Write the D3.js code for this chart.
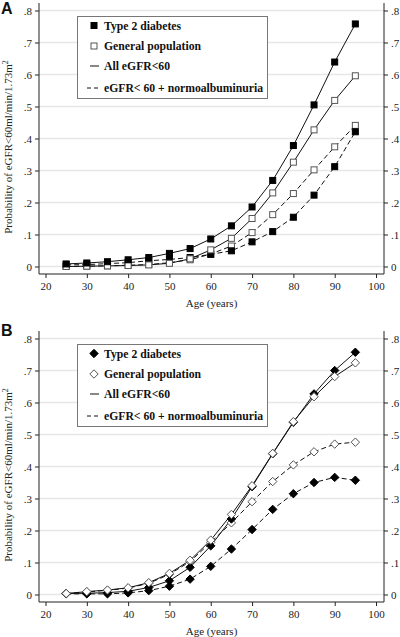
<!DOCTYPE html>
<html>
<head>
<meta charset="utf-8">
<script src="https://cdn.jsdelivr.net/npm/d3@7"></script>
<style>
  html, body { margin: 0; padding: 0; background: #fff; }
  svg { display: block; }
</style>
</head>
<body>
<svg id="chart" width="400" height="637"></svg>
<script>
// ---------- DATA ----------
const ages = [25, 30, 35, 40, 45, 50, 55, 60, 65, 70, 75, 80, 85, 90, 95];
const xTicks = [20, 30, 40, 50, 60, 70, 80, 90, 100];
const yTicks = [0, 0.1, 0.2, 0.3, 0.4, 0.5, 0.6, 0.7, 0.8];
const yTickLabels = ["0", ".1", ".2", ".3", ".4", ".5", ".6", ".7", ".8"];
const legendLabels = ["Type 2 diabetes", "General population", "All eGFR<60", "eGFR< 60 + normoalbuminuria"];
const panelLetters = ["A", "B"];

// Panel A
const aT2dAll   = [0.008, 0.011, 0.015, 0.021, 0.028, 0.041, 0.056, 0.086, 0.127, 0.186, 0.269, 0.378, 0.505, 0.639, 0.758];
const aGenAll   = [0.000, 0.001, 0.002, 0.003, 0.005, 0.010, 0.024, 0.052, 0.088, 0.150, 0.230, 0.326, 0.427, 0.519, 0.596];
const aT2dNormo = [0.005, 0.006, 0.009, 0.012, 0.018, 0.022, 0.028, 0.038, 0.049, 0.077, 0.109, 0.154, 0.223, 0.312, 0.421];
const aGenNormo = [0.000, 0.001, 0.002, 0.004, 0.006, 0.012, 0.021, 0.039, 0.064, 0.106, 0.162, 0.228, 0.302, 0.374, 0.441];

// Panel B
const bT2dAll   = [0.003, 0.004, 0.006, 0.010, 0.022, 0.043, 0.085, 0.152, 0.236, 0.337, 0.440, 0.538, 0.627, 0.700, 0.757];
const bGenAll   = [0.003, 0.009, 0.014, 0.021, 0.037, 0.066, 0.107, 0.170, 0.250, 0.340, 0.441, 0.540, 0.618, 0.681, 0.724];
const bT2dNormo = [0.002, 0.002, 0.002, 0.005, 0.012, 0.026, 0.048, 0.088, 0.142, 0.203, 0.266, 0.315, 0.350, 0.366, 0.357];
const bGenNormo = [0.003, 0.008, 0.013, 0.020, 0.035, 0.063, 0.103, 0.163, 0.224, 0.290, 0.353, 0.405, 0.446, 0.470, 0.476];

// ---------- DRAW ----------
const svg = d3.select("#chart");
const serif = "'Liberation Serif', 'Times New Roman', serif";
const sans = "'Liberation Sans', Arial, sans-serif";

function drawPanel(off, letter, series, shape) {
  const g = svg.append("g").attr("transform", `translate(0,${off})`);
  const x = d3.scaleLinear().domain([20, 100]).range([45.5, 376]);
  const y = d3.scaleLinear().domain([0, 0.8]).range([266.5, 10.5]);
  const left = 39, right = 384, top = 3, bottom = 274;

  // gridlines
  g.append("g").selectAll("line").data(yTicks).join("line")
    .attr("x1", left).attr("x2", right)
    .attr("y1", d => y(d)).attr("y2", d => y(d))
    .attr("stroke", "#e7e7e7").attr("stroke-width", 1.5);

  // axes
  const fmt = (d) => yTickLabels[yTicks.findIndex(t => Math.abs(t - d) < 1e-9)];
  const yl = g.append("g").attr("transform", `translate(${left},0)`)
    .call(d3.axisLeft(y).tickValues(yTicks).tickFormat(fmt).tickSize(4).tickPadding(3));
  const yr = g.append("g").attr("transform", `translate(${right},0)`)
    .call(d3.axisRight(y).tickValues(yTicks).tickFormat(fmt).tickSize(4).tickPadding(3));
  const xa = g.append("g").attr("transform", `translate(0,${bottom})`)
    .call(d3.axisBottom(x).tickValues(xTicks).tickFormat(d3.format("d")).tickSize(4).tickPadding(4));
  [yl, yr, xa].forEach(a => {
    a.select(".domain").remove();
    a.selectAll("text").attr("font-family", serif).attr("font-size", 11).attr("fill", "#222");
    a.selectAll("line").attr("stroke", "#222");
  });
  g.append("line").attr("x1", left).attr("x2", left).attr("y1", top).attr("y2", bottom).attr("stroke", "#222");
  g.append("line").attr("x1", right).attr("x2", right).attr("y1", top).attr("y2", bottom).attr("stroke", "#222");
  g.append("line").attr("x1", left).attr("x2", right).attr("y1", bottom).attr("y2", bottom).attr("stroke", "#222");

  // titles
  const yt = g.append("text")
    .attr("transform", `translate(12,${147}) rotate(-90)`)
    .attr("text-anchor", "middle").attr("font-family", serif).attr("font-size", 11).attr("fill", "#222");
  yt.append("tspan").text("Probability of eGFR<60ml/min/1.73m");
  yt.append("tspan").attr("dy", -4).attr("font-size", 8).text("2");
  g.append("text").attr("x", (left + right) / 2).attr("y", 307)
    .attr("text-anchor", "middle").attr("font-family", serif).attr("font-size", 11).attr("fill", "#222")
    .text("Age (years)");
  g.append("text").attr("x", 1).attr("y", letter === "A" ? 14 : 8)
    .attr("font-family", sans).attr("font-weight", "bold").attr("font-size", 16).attr("fill", "#111")
    .text(letter);

  // lines
  const line = d3.line().x((d, i) => x(ages[i])).y(d => y(d));
  series.forEach(s => {
    g.append("path").attr("d", line(s.values)).attr("fill", "none")
      .attr("stroke", "#111").attr("stroke-width", 1)
      .attr("stroke-dasharray", s.dashed ? "5,3" : null);
  });

  function marker(sel, filled) {
    if (shape === "square") {
      sel.append("rect").attr("x", -3).attr("y", -3).attr("width", 6).attr("height", 6)
        .attr("fill", filled ? "#000" : "#fff").attr("stroke", filled ? "#000" : "#555").attr("stroke-width", 1);
    } else {
      sel.append("path").attr("d", "M0,-4.2L4.2,0L0,4.2L-4.2,0Z")
        .attr("fill", filled ? "#000" : "#fff").attr("stroke", filled ? "#000" : "#555").attr("stroke-width", 1);
    }
  }
  series.forEach(s => {
    s.values.forEach((v, i) => {
      const m = g.append("g").attr("transform", `translate(${x(ages[i])},${y(v)})`);
      marker(m, s.filled);
    });
  });

  // legend
  const lg = g.append("g");
  lg.append("rect").attr("x", 77.5).attr("y", 16.5).attr("width", 190).attr("height", 82)
    .attr("fill", "#fff").attr("stroke", "#777").attr("stroke-width", 1);
  const rows = [25.5, 46, 66, 88];
  const lt = (i) => lg.append("text").attr("x", 104).attr("y", rows[i] + 4)
    .attr("font-family", serif).attr("font-weight", "bold").attr("font-size", 11.7).attr("fill", "#111")
    .text(legendLabels[i]);
  marker(lg.append("g").attr("transform", `translate(94,${rows[0]})`), true);
  marker(lg.append("g").attr("transform", `translate(94,${rows[1]})`), false);
  lg.append("line").attr("x1", 90).attr("x2", 99).attr("y1", rows[2]).attr("y2", rows[2]).attr("stroke", "#111");
  lg.append("line").attr("x1", 87).attr("x2", 99).attr("y1", rows[3]).attr("y2", rows[3]).attr("stroke", "#111")
    .attr("stroke-dasharray", "4,3");
  [0, 1, 2, 3].forEach(lt);
}

drawPanel(0, panelLetters[0], [
  { values: aGenNormo, filled: false, dashed: true },
  { values: aT2dNormo, filled: true, dashed: true },
  { values: aGenAll, filled: false, dashed: false },
  { values: aT2dAll, filled: true, dashed: false }
], "square");

drawPanel(328, panelLetters[1], [
  { values: bGenNormo, filled: false, dashed: true },
  { values: bT2dNormo, filled: true, dashed: true },
  { values: bT2dAll, filled: true, dashed: false },
  { values: bGenAll, filled: false, dashed: false }
], "diamond");
</script>
</body>
</html>
